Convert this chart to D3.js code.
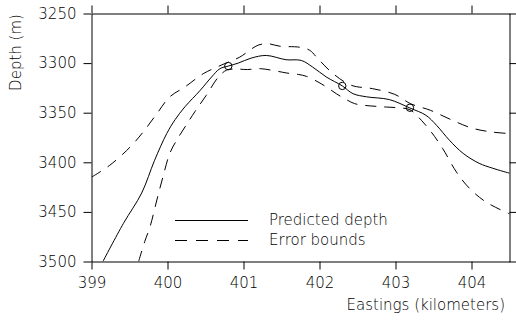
<!DOCTYPE html>
<html><head><meta charset="utf-8">
<script src="https://cdn.jsdelivr.net/npm/d3@7/dist/d3.min.js"></script>
<style>
html,body{margin:0;padding:0;background:#fff;}
svg{display:block;}
text{font-family:"DejaVu Sans",sans-serif;font-size:15px;font-weight:200;fill:#000;}
</style></head>
<body>
<svg id="c" width="516" height="321"></svg>
<script>
// Predicted depth (solid)
const predX = [399.15,399.42,399.66,399.83,399.99,400.10,400.23,400.43,400.58,400.69,400.80,400.93,401.10,401.30,401.56,401.76,401.91,402.09,402.30,402.44,402.62,402.92,403.19,403.40,403.54,403.71,403.89,404.10,404.28,404.5];
const predY = [3500,3461.6,3431,3398,3371,3357,3344,3327.5,3314,3305.6,3303,3300,3295,3292.3,3296.6,3297.3,3304,3314,3323,3330.8,3334,3336.8,3345.3,3352.6,3362.7,3377.8,3391,3401,3406,3411];
// Upper error bound (dashed)
const upX = [399.0,399.24,399.51,399.68,399.86,400.03,400.23,400.47,400.65,400.80,400.95,401.19,401.32,401.48,401.74,401.87,401.98,402.18,402.42,402.70,402.99,403.20,403.46,403.73,404.0,404.26,404.5];
const upY = [3415,3403,3384.5,3369.4,3351,3334,3324,3310.7,3304,3299,3294,3282,3280.5,3283,3284,3287,3295.6,3310.7,3322.4,3325.8,3331.5,3341,3347.6,3357,3365.4,3369.4,3371];
// Lower error bound (dashed)
const loX = [399.62,399.70,399.77,399.86,399.94,400.03,400.12,400.25,400.36,400.51,400.67,400.78,400.90,401.05,401.22,401.43,401.57,401.72,401.83,401.98,402.09,402.22,402.33,402.46,402.59,402.75,402.88,403.03,403.19,403.34,403.47,403.62,403.80,403.97,404.19,404.5];
const loY = [3500,3480,3465,3438,3414.7,3391,3377.8,3362,3349,3332.5,3314,3307,3306,3306.5,3305.6,3308,3310,3311.4,3313.4,3319,3324,3330.8,3335.8,3340.8,3342.6,3343.6,3344.3,3345,3347,3357.6,3369.4,3386,3409.6,3426,3440,3452];
// Observed points (circles)
const obsX = [400.80,402.30,403.19];
const obsY = [3303,3323,3345];
const xTicks = [399,400,401,402,403,404];
const yTicks = [3250,3300,3350,3400,3450,3500];
const legendLabels = ["Predicted depth","Error bounds"];

const svg = d3.select("#c");
const x = d3.scaleLinear().domain([399,404.5]).range([91.5,509.5]);
const y = d3.scaleLinear().domain([3250,3500]).range([13.5,261.5]);

svg.append("defs").append("clipPath").attr("id","clip")
  .append("rect").attr("x",91.5).attr("y",13.5).attr("width",418).attr("height",248);

function styleAxis(g){
  g.selectAll("path.domain").attr("stroke","#000").attr("stroke-width",1);
  g.selectAll(".tick line").attr("stroke","#000").attr("stroke-width",1);
  g.selectAll(".tick text").style("font-family",'"DejaVu Sans",sans-serif').style("font-size","15px").style("font-weight","200").attr("fill","#000");
  g.attr("font-family",null).attr("font-size",null);
}

svg.append("g").attr("transform","translate(0,261.5)")
  .call(d3.axisBottom(x).tickValues(xTicks).tickFormat(d3.format("d")).tickSize(8).tickSizeOuter(0).tickPadding(8))
  .call(styleAxis);
svg.append("g").attr("transform","translate(0,13.5)")
  .call(d3.axisTop(x).tickValues(xTicks).tickFormat("").tickSize(8).tickSizeOuter(0))
  .call(styleAxis);
svg.append("g").attr("transform","translate(91.5,0)")
  .call(d3.axisLeft(y).tickValues(yTicks).tickFormat(d3.format("d")).tickSize(8).tickSizeOuter(0).tickPadding(7))
  .call(styleAxis);
svg.append("g").attr("transform","translate(509.5,0)")
  .call(d3.axisRight(y).tickValues(yTicks).tickFormat("").tickSize(8).tickSizeOuter(0))
  .call(styleAxis);

const line = d3.line().x(d=>x(d[0])).y(d=>y(d[1])).curve(d3.curveCatmullRom.alpha(0.5));
const plot = svg.append("g").attr("clip-path","url(#clip)");
const zip = (a,b)=>a.map((v,i)=>[v,b[i]]);

plot.append("path").datum(zip(predX,predY)).attr("d",line)
  .attr("fill","none").attr("stroke","#000").attr("stroke-width",1);
[zip(upX,upY), zip(loX,loY)].forEach(p=>{
  plot.append("path").datum(p).attr("d",line)
    .attr("fill","none").attr("stroke","#000").attr("stroke-width",1)
    .attr("stroke-dasharray","11,8");
});
svg.selectAll("circle.obs").data(zip(obsX,obsY)).enter().append("circle")
  .attr("class","obs").attr("cx",d=>x(d[0])).attr("cy",d=>y(d[1])).attr("r",3.7)
  .attr("fill","none").attr("stroke","#000").attr("stroke-width",1);

// legend
const lg = svg.append("g");
legendLabels.forEach((t,i)=>{
  const yy = 220.5 + i*20;
  lg.append("line").attr("x1",175).attr("x2",248).attr("y1",yy).attr("y2",yy)
    .attr("stroke","#000").attr("stroke-width",1).attr("stroke-dasharray", i? "12,9" : null);
  lg.append("text").attr("x",269).attr("y",225+i*20).text(t);
});

// axis titles
svg.append("text").attr("x",505).attr("y",310).attr("text-anchor","end").text("Eastings (kilometers)");
svg.append("text").attr("transform","translate(21,52.5) rotate(-90)").attr("text-anchor","middle").text("Depth (m)");
</script>
</body></html>
